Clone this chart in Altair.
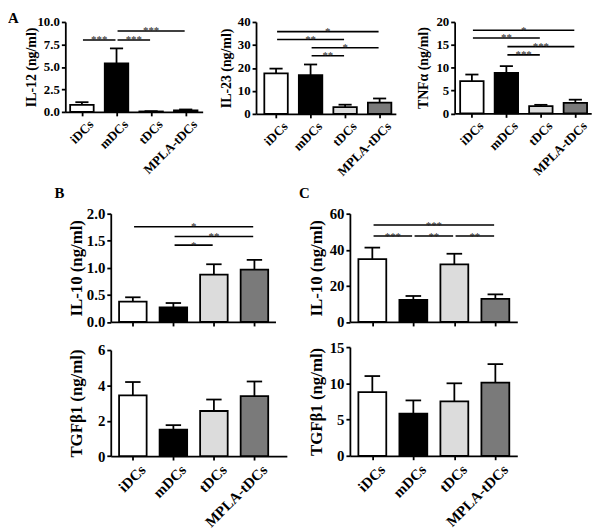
import altair as alt
import pandas as pd

FONT = "Liberation Serif"

groups = ["iDCs", "mDCs", "tDCs", "MPLA-tDCs"]
bar_colors = ["#ffffff", "#000000", "#dcdcdc", "#7a7a7a"]

# Panel A
il12_mean = [0.78, 5.4, 0.05, 0.17]
il12_err = [0.3, 1.66, 0.03, 0.1]
il12_sig_from = [0, 1, 1]
il12_sig_to = [1, 2, 3]
il12_sig_level = [8.0, 8.0, 9.0]
il12_sig_label = ["***", "***", "***"]

il23_mean = [17.6, 16.9, 2.9, 4.9]
il23_err = [2.1, 4.6, 1.1, 1.8]
il23_sig_from = [0, 0, 1, 1]
il23_sig_to = [3, 2, 3, 2]
il23_sig_level = [35.8, 32.4, 28.8, 25.3]
il23_sig_label = ["*", "**", "*", "**"]

tnf_mean = [7.05, 8.84, 1.6, 2.3]
tnf_err = [1.45, 1.5, 0.27, 0.7]
tnf_sig_from = [0, 0, 1, 1]
tnf_sig_to = [3, 2, 3, 2]
tnf_sig_level = [18.2, 16.5, 14.6, 12.8]
tnf_sig_label = ["*", "**", "***", "***"]

# Panel B
b_il10_mean = [0.376, 0.27, 0.876, 0.967]
b_il10_err = [0.08, 0.08, 0.19, 0.18]
b_il10_sig_from = [0, 1, 1]
b_il10_sig_to = [3, 3, 2]
b_il10_sig_level = [1.76, 1.58, 1.42]
b_il10_sig_label = ["*", "**", "*"]

b_tgf_mean = [3.44, 1.49, 2.55, 3.39]
b_tgf_err = [0.75, 0.26, 0.65, 0.83]

# Panel C
c_il10_mean = [34.8, 12.2, 31.9, 12.8]
c_il10_err = [6.4, 2.2, 5.9, 2.5]
c_il10_sig_from = [0, 0, 1, 2]
c_il10_sig_to = [3, 1, 2, 3]
c_il10_sig_level = [53.7, 47.6, 47.6, 47.6]
c_il10_sig_label = ["***", "***", "**", "**"]

c_tgf_mean = [8.78, 5.82, 7.5, 10.1]
c_tgf_err = [2.22, 1.82, 2.5, 2.55]

label_expr = "[" + ",".join("'%s'" % g for g in groups) + "][datum.value]"


def letter_layer(txt, x, y):
    return alt.Chart(pd.DataFrame({"t": [txt]})).mark_text(
        font=FONT, fontSize=15, fontWeight="bold", align="left",
        baseline="top", color="black").encode(
        x=alt.value(x), y=alt.value(y), text="t:N")


def extent_layer(x1, x2, y1, y2):
    # invisible diagonal rule that fixes the layout extent of a panel
    return alt.Chart(pd.DataFrame({"a": [0]})).mark_rule(
        opacity=0, strokeWidth=0.1).encode(
        x=alt.value(x1), x2=alt.value(x2), y=alt.value(y1), y2=alt.value(y2))


def panel(means, errs, ydom, yticks, yfmt, xdom, w, h, title, title_x,
          show_x_labels, tick_fs, title_fs, xlab_fs, ext,
          sig=None, letters=()):
    df = pd.DataFrame({"pos": list(range(4)), "group": groups,
                       "mean": means, "err": errs})
    xs = alt.Scale(domain=xdom, nice=False, zero=False)
    ys = alt.Scale(domain=ydom, nice=False, zero=True)
    xaxis = alt.Axis(values=[0, 1, 2, 3], labelExpr=label_expr,
                     labels=show_x_labels, labelAngle=315, title=None,
                     grid=False, labelFontSize=xlab_fs, tickSize=4,
                     labelPadding=2, labelOffset=5,
                     labelOverlap=False, labelBound=False)
    yaxis = alt.Axis(values=yticks, format=yfmt, title=title, titleAngle=270,
                     titleX=title_x, titleY=h / 2, titleBaseline="middle",
                     titleAlign="center", labelFontSize=tick_fs,
                     titleFontSize=title_fs, grid=False, tickSize=4,
                     labelPadding=2, labelOverlap=False)
    X = lambda f: alt.X(f, scale=xs, axis=xaxis)
    Y = lambda f: alt.Y(f, scale=ys, axis=yaxis)
    base = alt.Chart(df).transform_calculate(
        xl="datum.pos - 0.34", xr="datum.pos + 0.34",
        cl="datum.pos - 0.19", cr="datum.pos + 0.19",
        top="datum.mean + datum.err")
    bars = base.mark_bar(stroke="black", strokeWidth=1.8).encode(
        x=X("xl:Q"), x2="xr:Q", y=Y("mean:Q"), y2=alt.datum(0),
        fill=alt.Fill("group:N", scale=alt.Scale(domain=groups, range=bar_colors),
                      legend=None))
    err_line = base.mark_rule(color="black", strokeWidth=1.8).encode(
        x=X("pos:Q"), y=Y("mean:Q"), y2="top:Q")
    cap = base.mark_rule(color="black", strokeWidth=1.8).encode(
        x=X("cl:Q"), x2="cr:Q", y=Y("top:Q"))
    layers = [bars, err_line, cap]
    if sig is not None:
        f, t, lv, lb = sig
        sdf = pd.DataFrame({"f": f, "t": t, "level": lv, "label": lb})
        sb = alt.Chart(sdf).transform_calculate(
            x1="datum.f + 0.03", x2="datum.t - 0.03",
            mid="(datum.f + datum.t) / 2")
        layers.append(sb.mark_rule(color="black", strokeWidth=1.6).encode(
            x=X("x1:Q"), x2="x2:Q", y=Y("level:Q")))
        layers.append(sb.mark_text(font=FONT, fontSize=11, color="#222222",
                                   baseline="alphabetic", dy=3.5).encode(
            x=X("mid:Q"), y=Y("level:Q"), text="label:N"))
    for (txt, lx, ly) in letters:
        layers.append(letter_layer(txt, lx, ly))
    L, R, T, B = ext
    layers.append(extent_layer(-L, w + R, -T, B))
    return alt.layer(*layers).properties(width=w, height=h)


ROW1_BOTTOM = 185

A1 = panel(il12_mean, il12_err, [0, 10], [0, 2.5, 5, 7.5, 10], ".1f",
           [-0.48, 3.49], 139, 91, "IL-12 (ng/ml)", -34, True, 13, 14, 13,
           ext=(58, 8.5, 11, ROW1_BOTTOM),
           sig=(il12_sig_from, il12_sig_to, il12_sig_level, il12_sig_label),
           letters=[("A", -58, -11), ("B", -11, 166)])
A2 = panel(il23_mean, il23_err, [0, 40], [0, 10, 20, 30, 40], "d",
           [-0.58, 3.47], 141.5, 93, "IL-23 (ng/ml)", -30, True, 13, 14, 13,
           ext=(45, 13.7, 5, ROW1_BOTTOM),
           sig=(il23_sig_from, il23_sig_to, il23_sig_level, il23_sig_label),
           letters=[("C", 43.5, 166)])
A3 = panel(tnf_mean, tnf_err, [0, 20], [0, 5, 10, 15, 20], "d",
           [-0.5, 3.46], 138.2, 92.5, "TNFα (ng/ml)", -31, True, 13, 14, 13,
           ext=(45, 0.5, 5, ROW1_BOTTOM),
           sig=(tnf_sig_from, tnf_sig_to, tnf_sig_level, tnf_sig_label))

B1 = panel(b_il10_mean, b_il10_err, [0, 2], [0, 0.5, 1, 1.5, 2], ".1f",
           [-0.545, 3.52], 166.7, 109.6, "IL-10 (ng/ml)", -35, False, 15, 17, 15,
           ext=(45, 180 - 166.7, 8.7, 109.6 + 10),
           sig=(b_il10_sig_from, b_il10_sig_to, b_il10_sig_level, b_il10_sig_label))
B2 = panel(b_tgf_mean, b_tgf_err, [0, 6], [0, 2, 4, 6], "d",
           [-0.545, 3.8], 178.2, 107.3, "TGFβ1 (ng/ml)", -35, True, 15, 17, 15,
           ext=(45, 180 - 178.2, 17.7, 107.3 + 5))
C1 = panel(c_il10_mean, c_il10_err, [0, 60], [0, 20, 40, 60], "d",
           [-0.547, 3.535], 169.4, 109.6, "IL-10 (ng/ml)", -34, False, 15, 17, 15,
           ext=(61.6, 1, 8.7, 109.6 + 10),
           sig=(c_il10_sig_from, c_il10_sig_to, c_il10_sig_level, c_il10_sig_label))
C2 = panel(c_tgf_mean, c_tgf_err, [0, 15], [0, 5, 10, 15], "d",
           [-0.547, 3.535], 169.4, 110, "TGFβ1 (ng/ml)", -34, True, 15, 17, 15,
           ext=(61.6, 1, 14.4, 110 + 5))

spacer = extent_layer(-58, 0.7, 0, 1).properties(width=0.5, height=1)

row1 = alt.hconcat(A1, A2, A3, spacing=0)
colB = alt.vconcat(B1, B2, spacing=0)
colC = alt.vconcat(C1, C2, spacing=0)
row2 = alt.hconcat(spacer, colB, colC, spacing=0)

chart = alt.vconcat(row1, row2, spacing=0).properties(
    padding=0
).configure_axis(
    labelFont=FONT, titleFont=FONT, labelFontWeight="bold",
    titleFontWeight="bold", labelColor="black", titleColor="black",
    domainColor="black", tickColor="black", domainWidth=1.8, tickWidth=1.8
).configure_view(stroke=None)

chart.save("out.html", embed_options={"renderer": "svg", "actions": False})
